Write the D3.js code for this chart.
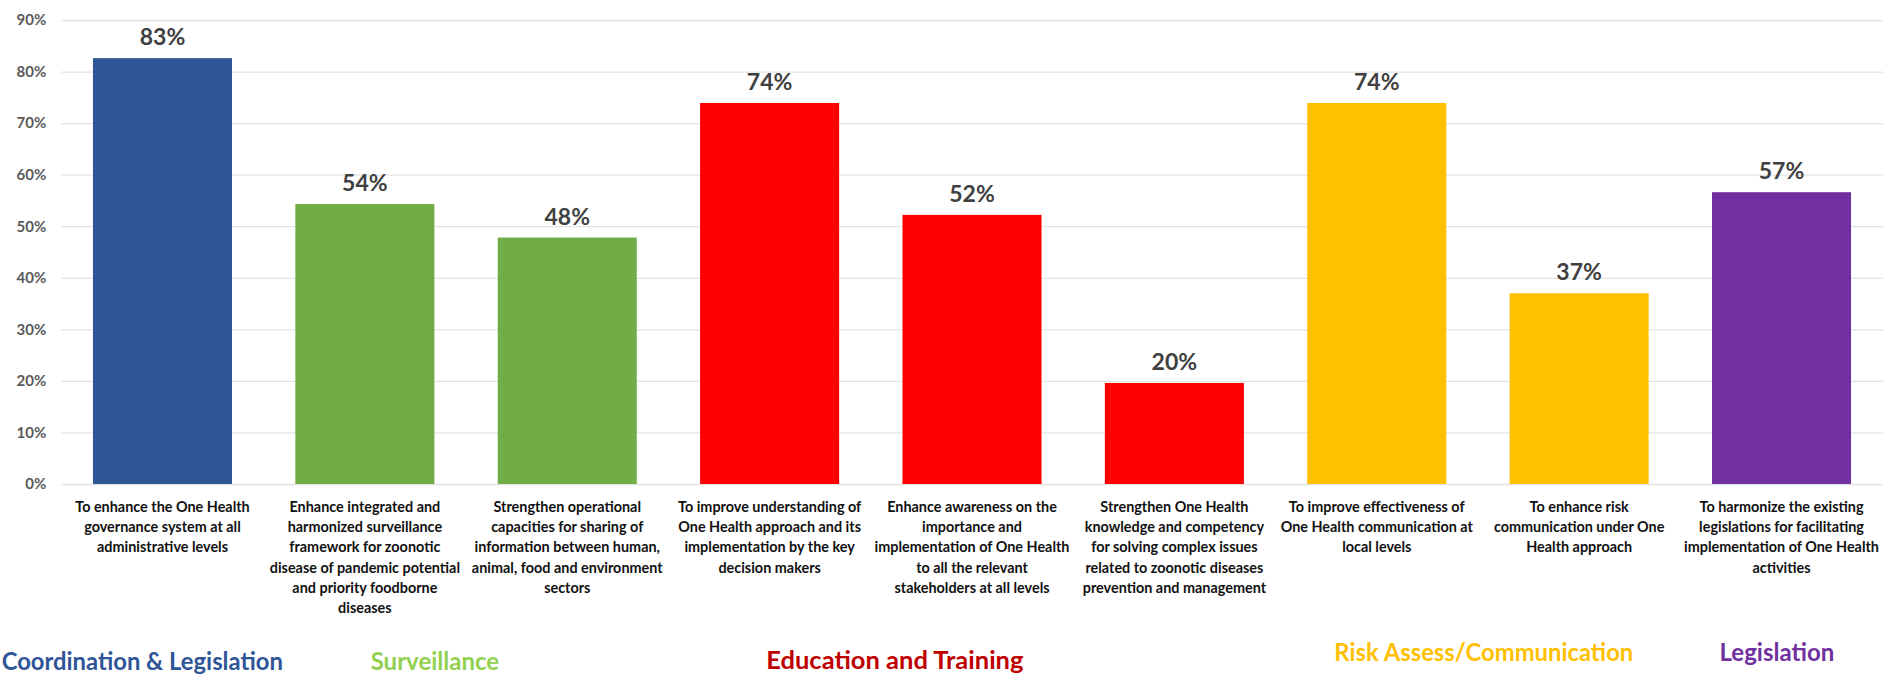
<!DOCTYPE html>
<html>
<head>
<meta charset="utf-8">
<script src="https://cdn.jsdelivr.net/npm/d3@7"></script>
<style>
  html, body { margin: 0; padding: 0; background: #fff; }
  svg { display: block; font-family: Lato, "Open Sans", sans-serif; font-weight: bold; }
</style>
</head>
<body>
<div id="chart"></div>
<script>
// objectives (label lines), shares of respondents, and the thematic group of each bar
const labels = [
  ["To enhance the One Health", "governance system at all", "administrative levels"],
  ["Enhance integrated and", "harmonized surveillance", "framework for zoonotic", "disease of pandemic potential", "and priority foodborne", "diseases"],
  ["Strengthen operational", "capacities for sharing of", "information between human,", "animal, food and environment", "sectors"],
  ["To improve understanding of", "One Health approach and its", "implementation by the key", "decision makers"],
  ["Enhance awareness on the", "importance and", "implementation of One Health", "to all the relevant", "stakeholders at all levels"],
  ["Strengthen One Health", "knowledge and competency", "for solving complex issues", "related to zoonotic diseases", "prevention and management"],
  ["To improve effectiveness of", "One Health communication at", "local levels"],
  ["To enhance risk", "communication under One", "Health approach"],
  ["To harmonize the existing", "legislations for facilitating", "implementation of One Health", "activities"]
];
const values = [0.826, 0.543, 0.478, 0.739, 0.522, 0.196, 0.739, 0.370, 0.566];
const barGroup = [0, 1, 1, 2, 2, 2, 3, 3, 4];
const groups = ["Coordination & Legislation", "Surveillance", "Education and Training", "Risk Assess/Communication", "Legislation"];
const yTicks = [0, 0.1, 0.2, 0.3, 0.4, 0.5, 0.6, 0.7, 0.8, 0.9];

// styling
const barColors = ["#2F5597", "#70AD47", "#FF0000", "#FFC000", "#7030A0"];
const titleColors = ["#2F5597", "#92D050", "#C00000", "#FFC000", "#7030A0"];
// where each group title sits, in bar slots, its baseline and size
const titleSlot = [-0.1, 1.346, 3.619, 6.529, 7.977];
const titleY = [670, 670, 669, 661, 661];
const titleSize = [23.8, 24, 25.5, 23.8, 24];

const dims = { width: 1883, height: 675 };
const margins = { left: 61.3, right: 0.3, top: 20, bottom: 191 };

const svg = d3.select("#chart").append("svg")
  .attr("width", dims.width)
  .attr("height", dims.height);

const x = d3.scaleBand()
  .domain(d3.range(values.length))
  .range([margins.left, dims.width - margins.right])
  .paddingInner(0.313)
  .paddingOuter(0.1565);

const y = d3.scaleLinear()
  .domain([0, 0.9])
  .range([dims.height - margins.bottom, margins.top]);

// gridlines + tick labels
const yAxis = svg.append("g")
  .attr("transform", `translate(${margins.left},0)`)
  .call(d3.axisLeft(y)
    .tickValues(yTicks)
    .tickFormat(d3.format(".0%"))
    .tickSize(-(dims.width - margins.left))
    .tickPadding(15));
yAxis.select(".domain").remove();
yAxis.selectAll(".tick line").attr("stroke", "#E3E3E3").attr("stroke-width", 1.3);
yAxis.selectAll(".tick text")
  .attr("fill", "#595959")
  .attr("font-size", 15)
  .attr("font-weight", "bold")
  .attr("font-family", "Lato, sans-serif");

// bars
svg.append("g").selectAll("rect")
  .data(values)
  .join("rect")
    .attr("x", (d, i) => x(i))
    .attr("y", d => y(d))
    .attr("width", x.bandwidth())
    .attr("height", d => y(0) - y(d))
    .attr("fill", (d, i) => barColors[barGroup[i]]);

// value labels
svg.append("g").selectAll("text")
  .data(values)
  .join("text")
    .attr("x", (d, i) => x(i) + x.bandwidth() / 2)
    .attr("y", d => y(d) - 13)
    .attr("text-anchor", "middle")
    .attr("fill", "#404040")
    .attr("font-size", 23)
    .text(d => d3.format(".0%")(d));

// category labels under the bars
const catG = svg.append("g").selectAll("g")
  .data(labels)
  .join("g")
    .attr("transform", (d, i) => `translate(${x(i) + x.bandwidth() / 2},${y(0) + 27.5}) scale(0.93,1)`);

catG.selectAll("text")
  .data(d => d)
  .join("text")
    .attr("y", (d, j) => j * 20.4)
    .attr("text-anchor", "middle")
    .attr("fill", "#111")
    .attr("font-size", 15.5)
    .text(d => d);

// group titles
const slotX = t => x.range()[0] + x.step() * (t + 0.5);
svg.append("g").selectAll("text")
  .data(groups)
  .join("text")
    .attr("x", (d, i) => slotX(titleSlot[i]))
    .attr("y", (d, i) => titleY[i])
    .attr("text-anchor", "middle")
    .attr("fill", (d, i) => titleColors[i])
    .attr("font-size", (d, i) => titleSize[i])
    .text(d => d);
</script>
</body>
</html>
